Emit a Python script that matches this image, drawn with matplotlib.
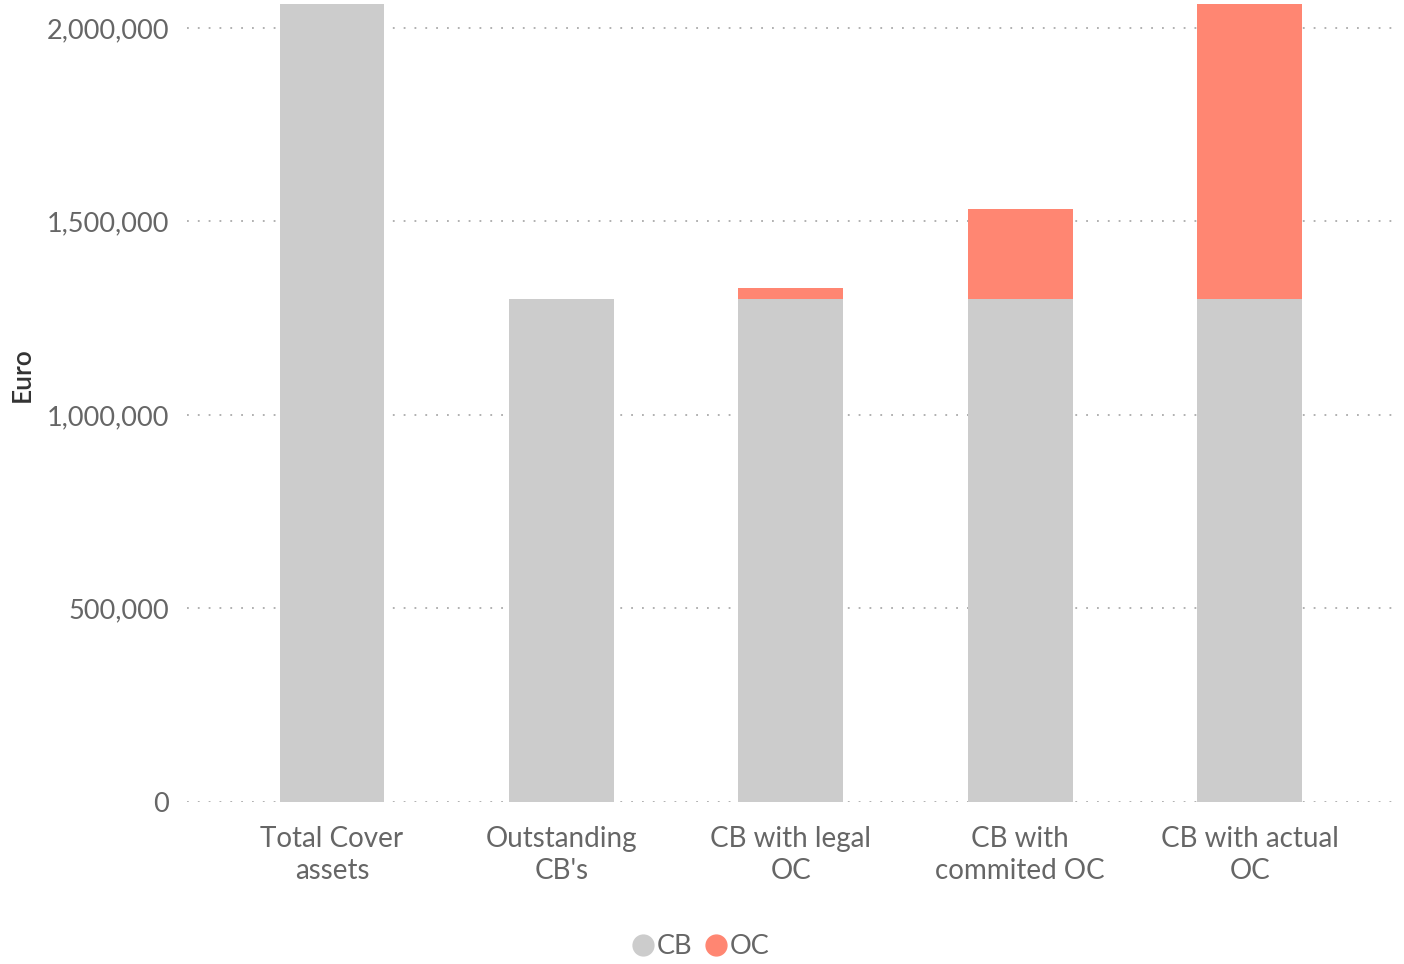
import matplotlib
matplotlib.use("Agg")
import matplotlib.pyplot as plt
from matplotlib.lines import Line2D
from matplotlib.ticker import FuncFormatter
import numpy as np

### data ###
categories = ["Total Cover\nassets", "Outstanding\nCB's", "CB with legal\nOC",
              "CB with\ncommited OC", "CB with actual\nOC"]
cb_values = [2062000, 1300000, 1300000, 1300000, 1300000]
oc_values = [0, 0, 28000, 233000, 762000]
y_ticks = [0, 500000, 1000000, 1500000, 2000000]

cb_color = "#cccccc"
oc_color = "#ff8672"
text_color = "#666666"

plt.rcParams["font.family"] = ["Lato", "DejaVu Sans"]

fig = plt.figure(figsize=(14.04, 9.64), dpi=100)
ax = fig.add_axes([187 / 1404, (964 - 802) / 964, (1400 - 187) / 1404, (802 - 4) / 964])

x = np.arange(len(categories))
ax.bar(x, cb_values, width=0.457, color=cb_color, zorder=2)
ax.bar(x, oc_values, width=0.457, bottom=cb_values, color=oc_color, zorder=2)

ax.set_xlim(-0.632, 4.655)
ax.set_ylim(0, 2062000)
ax.set_yticks(y_ticks)
ax.yaxis.set_major_formatter(FuncFormatter(lambda v, p: f"{int(v):,}"))
ax.set_xticks(x)
ax.set_xticklabels(categories, fontsize=20, color=text_color, linespacing=1.3)
ax.tick_params(axis="y", labelsize=19.5, labelcolor=text_color, length=0, pad=13)
ax.tick_params(axis="x", length=0, pad=17)

ax.grid(axis="y", color="#aaaaaa", linestyle=(0, (1, 5)), linewidth=1.3, zorder=0)
for s in ax.spines.values():
    s.set_visible(False)

fig.text(22 / 1404, 1 - 375 / 964, "Euro", rotation=90, fontsize=19,
         color="#333333", fontweight="semibold", ha="center", va="center")

handles = [Line2D([], [], marker="o", linestyle="", markersize=15, color=cb_color),
           Line2D([], [], marker="o", linestyle="", markersize=15, color=oc_color)]
fig.legend(handles, ["CB", "OC"], loc="center", bbox_to_anchor=(698 / 1404, 1 - 947 / 964),
           ncol=2, frameon=False, fontsize=19.5, labelcolor=text_color,
           handletextpad=-0.1, columnspacing=0.3, handlelength=1.2)

fig.savefig("out.png", dpi=100)
